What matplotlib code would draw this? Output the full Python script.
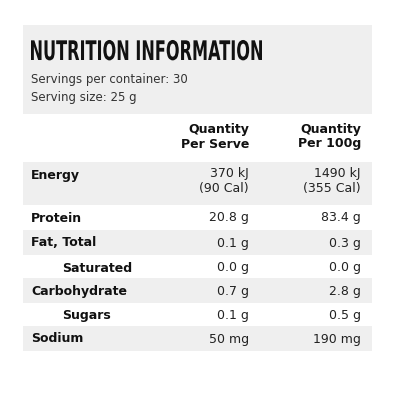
import matplotlib.pyplot as plt
from matplotlib.patches import Rectangle, PathPatch
from matplotlib.textpath import TextPath
from matplotlib.font_manager import FontProperties
from matplotlib.transforms import Affine2D

title = "NUTRITION INFORMATION"
nutrients = ["Energy", "Protein", "Fat, Total", "Saturated", "Carbohydrate", "Sugars", "Sodium"]
indented = [False, False, False, True, False, True, False]
per_serve = ["370 kJ\n(90 Cal)", "20.8 g", "0.1 g", "0.0 g", "0.7 g", "0.1 g", "50 mg"]
per_100g = ["1490 kJ\n(355 Cal)", "83.4 g", "0.3 g", "0.0 g", "2.8 g", "0.5 g", "190 mg"]
servings = ["Servings per container: 30", "Serving size: 25 g"]

grey = "#efefef"
fig = plt.figure(figsize=(4, 4), dpi=100)
ax = fig.add_axes([0, 0, 1, 1])
ax.set_xlim(0, 400)
ax.set_ylim(400, 0)
ax.axis("off")

x0, x1 = 23, 372
ax.add_patch(Rectangle((x0, 25), x1 - x0, 89, color=grey, lw=0))

# condensed title: squeeze a bold text path horizontally
tp = TextPath((0, 0), title, size=27, prop=FontProperties(family="DejaVu Sans", weight="bold"))
ext = tp.get_extents()
sx = 231 / ext.width
tr = Affine2D().translate(-ext.x0, 0).scale(sx, -1.0).translate(31, 60) + ax.transData
ax.add_patch(PathPatch(tp, transform=tr, color="#111", lw=0))

ax.text(31, 80, servings[0], fontsize=8.5, va="center", color="#333")
ax.text(31, 97, servings[1], fontsize=8.5, va="center", color="#333")

ax.text(249, 137, "Quantity\nPer Serve", fontsize=9, fontweight="bold", ha="right",
        va="center", linespacing=1.1, color="#111")
ax.text(361, 137, "Quantity\nPer 100g", fontsize=9, fontweight="bold", ha="right",
        va="center", linespacing=1.1, color="#111")

bounds = [162, 205, 230, 255, 278, 303, 326, 351]
for i, name in enumerate(nutrients):
    top, bot = bounds[i], bounds[i + 1]
    if i % 2 == 0:
        ax.add_patch(Rectangle((x0, top), x1 - x0, bot - top, color=grey, lw=0))
    ty = top + 13
    ax.text(62 if indented[i] else 31, ty, name, fontsize=9, fontweight="bold",
            va="center", color="#111")
    for xr, val in [(249, per_serve[i]), (361, per_100g[i])]:
        if "\n" in val:
            ax.text(xr, top + 5, val, fontsize=9, ha="right", va="top", color="#222", linespacing=1.2)
        else:
            ax.text(xr, ty, val, fontsize=9, ha="right", va="center", color="#222")

fig.savefig("out.png", dpi=100)
